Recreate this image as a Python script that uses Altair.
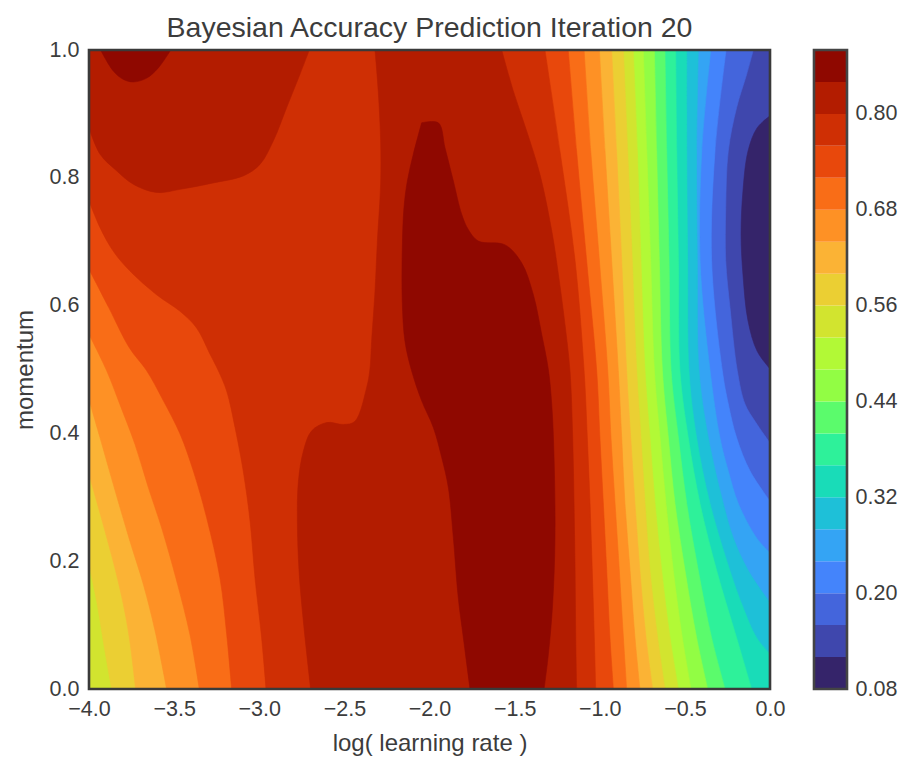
import altair as alt
import pandas as pd

title_text = "Bayesian Accuracy Prediction Iteration 20"
x_ticks = [-4.0, -3.5, -3.0, -2.5, -2.0, -1.5, -1.0, -0.5, 0.0]
y_ticks = [0.0, 0.2, 0.4, 0.6, 0.8, 1.0]
bar_ticks = [0.08, 0.20, 0.32, 0.44, 0.56, 0.68, 0.80]
band_low = [0.08, 0.12, 0.16, 0.20, 0.24, 0.28, 0.32, 0.36, 0.40, 0.44,
            0.48, 0.52, 0.56, 0.60, 0.64, 0.68, 0.72, 0.76, 0.80, 0.84]
band_color = ["#35246a", "#3f47ad", "#4465dc", "#4484fb", "#34a4f4", "#1ec0d8", "#19dcb8",
              "#2ef19a", "#5bfb6c", "#92fd44", "#b2f936", "#d2e42f", "#ebcf33", "#fbb335",
              "#fe9125", "#f96d17", "#e8480c", "#cf2f04", "#b31c00", "#8f0800"]

# Contour outlines: (log learning rate, momentum)
full_12 = [(-4, 1), (0, 1), (0, 0), (-4, 0)]
dark_08 = [(0, .897), (-.076, .878), (-.129, .842), (-.159, .779), (-.170, .712), (-.159, .649),
           (-.129, .576), (-.076, .529), (0, .501)]
edge_16 = [(-4, 1), (-.098, 1), (-.137, .962), (-.196, .910), (-.245, .842), (-.260, .753), (-.260, .670),
           (-.235, .597), (-.192, .498), (-.147, .446), (-.088, .419), (0, .385), (0, 0), (-4, 0)]
edge_20 = [(-4, 1), (-.258, 1), (-.323, .842), (-.343, .670), (-.280, .498), (-.245, .446), (-.196, .393),
           (-.117, .341), (0, .294), (0, 0), (-4, 0)]
edge_24 = [(-4, 1), (-.348, 1), (-.401, .842), (-.411, .670), (-.352, .498), (-.294, .393), (-.245, .341),
           (-.186, .290), (-.078, .236), (0, .213), (0, 0), (-4, 0)]
edge_28 = [(-4, 1), (-.421, 1), (-.431, .842), (-.427, .670), (-.417, .498), (-.362, .393), (-.274, .290),
           (-.215, .236), (-.127, .185), (0, .135), (0, 0), (-4, 0)]
edge_32 = [(-4, 1), (-.489, 1), (-.489, .842), (-.484, .670), (-.476, .498), (-.431, .393), (-.352, .290),
           (-.235, .185), (-.166, .133), (-.078, .080), (0, .055), (0, 0), (-4, 0)]
edge_36 = [(-4, 1), (-.554, 1), (-.548, .842), (-.538, .670), (-.529, .498), (-.480, .393), (-.411, .290),
           (-.313, .185), (-.196, .080), (-.108, 0), (-4, 0)]
edge_40 = [(-4, 1), (-.617, 1), (-.607, .842), (-.593, .670), (-.581, .498), (-.538, .393), (-.489, .290),
           (-.421, .185), (-.343, .080), (-.264, 0), (-4, 0)]
edge_44 = [(-4, 1), (-.679, 1), (-.666, .842), (-.650, .670), (-.632, .498), (-.597, .393), (-.558, .290),
           (-.499, .185), (-.431, .080), (-.366, 0), (-4, 0)]
edge_48 = [(-4, 1), (-.744, 1), (-.724, .842), (-.701, .670), (-.679, .498), (-.646, .393), (-.611, .290),
           (-.568, .185), (-.515, .080), (-.464, 0), (-4, 0)]
edge_52 = [(-4, 1), (-.803, 1), (-.779, .842), (-.758, .670), (-.734, .498), (-.705, .393), (-.675, .290),
           (-.636, .185), (-.587, .080), (-.538, 0), (-4, 0)]
edge_56 = [(-4, 1), (-.861, 1), (-.836, .842), (-.809, .670), (-.783, .498), (-.758, .393), (-.734, .290),
           (-.705, .185), (-.660, .080), (-.617, 0),
           (-3.867, 0), (-3.906, .059), (-3.955, .1375), (-4, .195)]
edge_60 = [(-4, 1), (-.930, 1), (-.901, .842), (-.871, .670), (-.842, .498), (-.818, .393), (-.793, .290),
           (-.764, .185), (-.728, .080), (-.689, 0),
           (-3.726, 0), (-3.763, .080), (-3.798, .132), (-3.843, .184), (-3.906, .247), (-4, .336)]
edge_64 = [(-4, 1), (-1.002, 1), (-.969, .842), (-.930, .670), (-.891, .498), (-.871, .393), (-.852, .290),
           (-.822, .185), (-.793, .080), (-.764, 0),
           (-3.544, 0), (-3.612, .091), (-3.681, .164), (-3.759, .231), (-3.857, .320), (-3.935, .393), (-4, .453)]
edge_68 = [(-4, 1), (-1.092, 1), (-1.053, .842), (-1.002, .670), (-.953, .498), (-.934, .393), (-.910, .290),
           (-.885, .185), (-.861, .080), (-.842, 0),
           (-3.352, 0), (-3.407, .085), (-3.485, .169), (-3.573, .252), (-3.651, .315), (-3.730, .383),
           (-3.818, .445), (-3.896, .498), (-4, .555)]
edge_72 = [(-4, 1), (-1.185, 1), (-1.136, .842), (-1.077, .670), (-1.018, .498), (-.999, .393), (-.979, .290),
           (-.959, .185), (-.940, .080), (-.920, 0),
           (-3.162, 0), (-3.191, .085), (-3.231, .174), (-3.309, .268), (-3.387, .341), (-3.465, .399),
           (-3.563, .451), (-3.661, .498), (-3.763, .534), (-3.884, .597), (-4, .657)]
edge_76 = [(-4, 1), (-1.322, 1), (-1.234, .842), (-1.145, .670), (-1.092, .498), (-1.073, .393), (-1.057, .290),
           (-1.044, .185), (-1.032, .080), (-1.024, 0),
           (-2.960, 0), (-2.986, .080), (-3.025, .174), (-3.054, .263), (-3.094, .341), (-3.142, .409),
           (-3.191, .466), (-3.240, .498), (-3.289, .524), (-3.368, .565), (-3.465, .591), (-3.603, .617),
           (-3.759, .654), (-3.857, .685), (-3.935, .722), (-4, .764)]
blob_80a = [(-4, 1), (-2.706, 1), (-2.761, .962), (-2.839, .910), (-2.917, .858), (-2.996, .821), (-3.094, .803),
            (-3.270, .792), (-3.465, .782), (-3.603, .777), (-3.740, .790), (-3.838, .811), (-3.935, .837), (-4, .878)]
blob_80b = [(-2.320, 1), (-1.576, 1), (-1.508, .936), (-1.429, .873), (-1.351, .805), (-1.282, .717), (-1.243, .649),
            (-1.204, .570), (-1.175, .498), (-1.159, .393), (-1.151, .290), (-1.145, .185), (-1.141, .080), (-1.136, 0),
            (-2.698, 0), (-2.741, .106), (-2.766, .184), (-2.776, .263), (-2.770, .325), (-2.741, .372), (-2.692, .404),
            (-2.604, .417), (-2.506, .414), (-2.438, .419), (-2.369, .472), (-2.350, .500), (-2.340, .544), (-2.320, .623),
            (-2.306, .701), (-2.287, .790), (-2.287, .858), (-2.301, .936)]
blob_84a = [(-3.932, 1), (-3.857, .967), (-3.798, .954), (-3.740, .950), (-3.661, .956), (-3.593, .972), (-3.520, 1)]
blob_84b = [(-2.046, .886), (-1.948, .886), (-1.909, .847), (-1.860, .795), (-1.811, .743), (-1.772, .719), (-1.713, .701),
            (-1.556, .695), (-1.459, .667), (-1.390, .617), (-1.341, .555), (-1.302, .500), (-1.282, .445), (-1.269, .367),
            (-1.263, .237), (-1.277, .132), (-1.302, .054), (-1.327, 0), (-1.762, 0), (-1.801, .080), (-1.831, .143),
            (-1.860, .237), (-1.889, .315), (-1.928, .362), (-1.977, .409), (-2.046, .451), (-2.105, .498), (-2.144, .544),
            (-2.160, .607), (-2.160, .685), (-2.150, .753), (-2.130, .795), (-2.095, .837)]

regions = [
    (0.12, full_12), (0.08, dark_08), (0.16, edge_16), (0.20, edge_20), (0.24, edge_24), (0.28, edge_28),
    (0.32, edge_32), (0.36, edge_36), (0.40, edge_40), (0.44, edge_44), (0.48, edge_48), (0.52, edge_52),
    (0.56, edge_56), (0.60, edge_60), (0.64, edge_64), (0.68, edge_68), (0.72, edge_72), (0.76, edge_76),
    (0.80, blob_80a), (0.80, blob_80b), (0.84, blob_84a), (0.84, blob_84b),
]

FONT = "Liberation Sans"
FRAME = "#3a3a3a"
x_scale = alt.Scale(domain=[-4, 0], nice=False, zero=False)
y_scale = alt.Scale(domain=[0, 1], nice=False, zero=False)
colour_of = dict(zip(band_low, band_color))


def with_sharp_corners(outline):
    """Repeat every vertex on the plot's border, so the smooth curve keeps a clean corner there."""
    pts = []
    for p in outline + outline[:1]:
        pts.append(p)
        if p[0] in (-4, 0) or p[1] in (0, 1):
            pts.append(p)
    return pts


layers = []
for low, outline in regions:
    pts = with_sharp_corners(outline)
    df = pd.DataFrame({"x": [p[0] for p in pts], "y": [p[1] for p in pts], "i": range(len(pts))})
    c = colour_of[low]
    layers.append(
        alt.Chart(df).mark_line(fill=c, stroke=c, strokeWidth=0.6, clip=True, interpolate="catmull-rom").encode(
            x=alt.X("x:Q", scale=x_scale,
                    axis=alt.Axis(values=x_ticks, format=".1f", title="log( learning rate )", grid=False,
                                  ticks=False, domain=False, labelFlush=False, labelOverlap=False,
                                  labelPadding=9, titlePadding=12)),
            y=alt.Y("y:Q", scale=y_scale,
                    axis=alt.Axis(values=y_ticks, format=".1f", title="momentum", grid=False,
                                  ticks=False, domain=False, labelFlush=False, labelOverlap=False,
                                  labelPadding=10, titlePadding=12)),
            order=alt.Order("i:Q"),
        )
    )
frame_df = pd.DataFrame({"x": [-4.0], "x2": [0.0], "y": [0.0], "y2": [1.0]})
layers.append(
    alt.Chart(frame_df).mark_rect(fillOpacity=0, stroke=FRAME, strokeWidth=2.6).encode(
        x=alt.X("x:Q", scale=x_scale), x2="x2:Q", y=alt.Y("y:Q", scale=y_scale), y2="y2:Q"
    )
)

main = alt.layer(*layers).properties(
    width=681, height=639,
    title=alt.TitleParams(title_text, fontSize=28.5, font=FONT, fontWeight="normal", color="#3c3c3c", offset=-3),
)

bar_scale = alt.Scale(domain=[0.08, 0.88], nice=False, zero=False)
bar_df = pd.DataFrame({"low": band_low, "high": [round(v + 0.04, 2) for v in band_low], "c": band_color})
bar_fill = alt.Chart(bar_df).mark_rect(strokeWidth=0).encode(
    x=alt.value(0), x2=alt.value(33),
    y=alt.Y("low:Q", scale=bar_scale,
            axis=alt.Axis(values=bar_ticks, format=".2f", orient="right", title=None, grid=False, ticks=False,
                          domain=False, labelFlush=False, labelOverlap=False, labelPadding=8)),
    y2="high:Q",
    color=alt.Color("c:N", scale=None),
)
bar_frame_df = pd.DataFrame({"low": [band_low[0]], "high": [0.88]})
bar_frame = alt.Chart(bar_frame_df).mark_rect(fillOpacity=0, stroke="#444444", strokeWidth=2.6).encode(
    x=alt.value(0), x2=alt.value(33),
    y=alt.Y("low:Q", scale=bar_scale), y2="high:Q",
)
bar = alt.layer(bar_fill, bar_frame).properties(width=33, height=639)

chart = alt.hconcat(main, bar, spacing=27).configure_view(strokeWidth=0).configure_axis(
    labelFont=FONT, labelFontSize=21.5, labelColor="#3c3c3c",
    titleFont=FONT, titleFontSize=24, titleColor="#3c3c3c", titleFontWeight="normal",
).properties(background="white", padding={"left": 5, "top": 5, "right": 2, "bottom": 2})

chart.save("out.html", embed_options={"renderer": "svg", "actions": False})
